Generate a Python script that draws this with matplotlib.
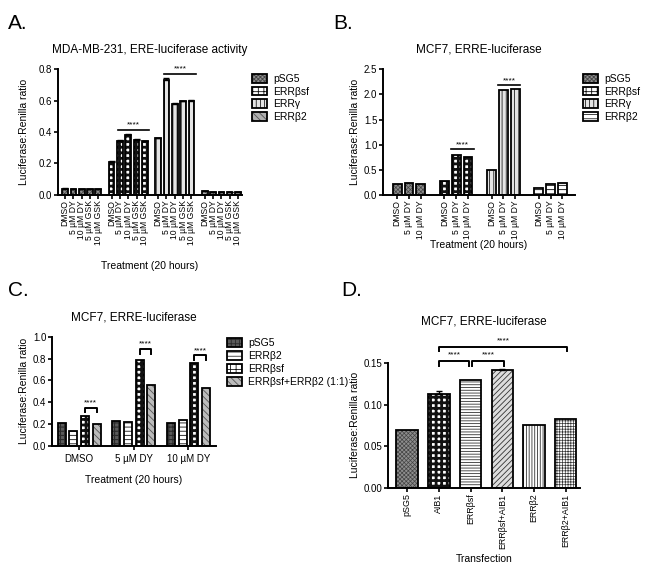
import matplotlib
matplotlib.use("Agg")
import matplotlib.pyplot as plt
from matplotlib.patches import Patch
from matplotlib.legend_handler import HandlerTuple
import numpy as np

plt.rcParams['font.family'] = ['Liberation Sans', 'DejaVu Sans']
plt.rcParams['hatch.linewidth'] = 0.6

# ---- data ----
a_treat = ["DMSO", "5 µM DY", "10 µM DY", "5 µM GSK", "10 µM GSK"]
a_series = ["pSG5", "ERRβsf", "ERRγ", "ERRβ2"]
a_vals = [[0.040, 0.038, 0.035, 0.035, 0.037],
          [0.210, 0.345, 0.380, 0.350, 0.340],
          [0.360, 0.730, 0.580, 0.595, 0.600],
          [0.022, 0.016, 0.016, 0.018, 0.018]]
a_err = [[0.002, 0.002, 0.001, 0.001, 0.002],
         [0.003, 0.004, 0.006, 0.004, 0.004],
         [0.004, 0.012, 0.005, 0.005, 0.004],
         [0.001, 0.001, 0.001, 0.001, 0.001]]

b_treat = ["DMSO", "5 µM DY", "10 µM DY"]
b_series = ["pSG5", "ERRβsf", "ERRγ", "ERRβ2"]
b_vals = [[0.22, 0.24, 0.22],
          [0.27, 0.79, 0.76],
          [0.49, 2.08, 2.11],
          [0.14, 0.21, 0.24]]

c_groups = ["DMSO", "5 µM DY", "10 µM DY"]
c_series = ["pSG5", "ERRβ2", "ERRβsf", "ERRβsf+ERRβ2 (1:1)"]
c_vals = [[0.21, 0.23, 0.21],
          [0.14, 0.22, 0.24],
          [0.27, 0.79, 0.76],
          [0.20, 0.56, 0.535]]

d_labels = ["pSG5", "AIB1", "ERRβsf", "ERRβsf+AIB1", "ERRβ2", "ERRβ2+AIB1"]
d_vals = [0.070, 0.113, 0.130, 0.142, 0.076, 0.083]
d_err = [0.0, 0.003, 0.0, 0.001, 0.0, 0.0]

# ---- styles: (face, hatch, hatch colour, hatch linewidth) ----
grey_x = ("#8e8e8e", "xxxxxxxx", "#444444", 0.5)
checker = ("white", "+++", "#111111", 2.0)
sty_a = [grey_x, checker,
         ("#e4e4e4", "||||", "#222222", 0.6), ("#b0b0b0", "\\\\\\\\\\", "#555555", 0.6)]
sty_b = [grey_x, checker,
         ("#e4e4e4", "||||", "#222222", 0.6), ("white", "----", "#222222", 0.7)]
sty_c = [("#5a5a5a", "++++", "#2a2a2a", 0.8), ("white", "----", "#333333", 0.7),
         checker, ("#bbbbbb", "\\\\\\\\\\", "#555555", 0.6)]
sty_d = [grey_x, checker,
         ("white", "------", "#333333", 0.6), ("#dddddd", "//////", "#333333", 0.6),
         ("white", "||||||", "#333333", 0.6), ("white", "++++++", "#333333", 0.5)]


def hpatch(st, **kw):
    with plt.rc_context({'hatch.linewidth': st[3]}):
        p = Patch(facecolor=st[0], edgecolor=st[2], hatch=st[1], linewidth=0, **kw)
    if hasattr(p, 'set_hatch_linewidth'):
        p.set_hatch_linewidth(st[3])
    return p


def hbar(ax, x, h, w, st, err=None):
    with plt.rc_context({'hatch.linewidth': st[3]}):
        bc = ax.bar(x, h, w, color=st[0], edgecolor=st[2], hatch=st[1], linewidth=0)
    for p in bc:
        if hasattr(p, 'set_hatch_linewidth'):
            p.set_hatch_linewidth(st[3])
    ax.bar(x, h, w, fill=False, edgecolor='black', linewidth=1.3)
    if err is not None:
        ax.errorbar([x], [h], yerr=[[0], [err]],
                    fmt='none', ecolor='black', elinewidth=1.0, capsize=2, capthick=1.0)


def handle(st):
    return (hpatch(st), Patch(fill=False, edgecolor='black', linewidth=1.3))


def style_ax(ax):
    for s in ['top', 'right']:
        ax.spines[s].set_visible(False)
    for s in ['left', 'bottom']:
        ax.spines[s].set_linewidth(1.4)
    ax.tick_params(axis='both', width=1.2, length=3, labelsize=7, pad=1)


def sig_line(ax, x0, x1, y, text, ty):
    ax.plot([x0, x1], [y, y], color='black', lw=1.2, clip_on=False)
    ax.text((x0 + x1) / 2, ty, text, ha='center', va='center', fontsize=6)


def bracket(ax, x0, x1, y, drop, text, ty):
    ax.plot([x0, x0, x1, x1], [y - drop, y, y, y - drop], color='black', lw=1.4, clip_on=False)
    ax.text((x0 + x1) / 2, ty, text, ha='center', va='center', fontsize=6)


def legend(ax, styles, names, xpx, ypx, ls=0.25):
    ax.legend([handle(s) for s in styles], names, handler_map={tuple: HandlerTuple(ndivide=1)},
              loc='upper left', bbox_to_anchor=(xpx / 648, 1 - ypx / 568),
              bbox_transform=fig.transFigure, borderaxespad=0, borderpad=0,
              frameon=False, fontsize=7.5, handlelength=1.45, handleheight=0.9,
              labelspacing=ls, handletextpad=0.6)


fig = plt.figure(figsize=(6.48, 5.68), dpi=100)

# ---------------- A ----------------
axA = fig.add_axes([0.0895, 0.657, 0.2835, 0.221])
w = 0.68
posA = []
for g in range(4):
    pos = g * 5.6 + np.arange(5)
    posA.extend(pos)
    for i in range(5):
        hbar(axA, pos[i], a_vals[g][i], w, sty_a[g], a_err[g][i])
axA.set_xlim(-0.85, 21.25)
axA.set_ylim(0, 0.8)
axA.set_yticks([0.0, 0.2, 0.4, 0.6, 0.8])
axA.set_yticklabels(["0.0", "0.2", "0.4", "0.6", "0.8"])
axA.set_xticks(posA)
style_ax(axA)
axA.set_xticklabels(a_treat * 4, rotation=90, fontsize=6.2)
axA.set_ylabel("Luciferase:Renilla ratio", fontsize=7.5, labelpad=7)
axA.set_xlabel("Treatment (20 hours)", fontsize=7.5, labelpad=11)
axA.set_title("MDA-MB-231, ERE-luciferase activity", fontsize=8.5, pad=12)
sig_line(axA, 6.35, 10.1, 0.41, "****", 0.445)
sig_line(axA, 11.95, 15.75, 0.77, "****", 0.805)
legend(axA, sty_a, a_series, 252, 74)

# ---------------- B ----------------
axB = fig.add_axes([0.591, 0.657, 0.296, 0.221])
w = 0.75
posB = []
for g in range(4):
    pos = g * 4 + np.arange(3)
    posB.extend(pos)
    for i in range(3):
        hbar(axB, pos[i], b_vals[g][i], w, sty_b[g])
axB.set_xlim(-1.2, 15.05)
axB.set_ylim(0, 2.5)
axB.set_yticks([0.0, 0.5, 1.0, 1.5, 2.0, 2.5])
axB.set_yticklabels(["0.0", "0.5", "1.0", "1.5", "2.0", "2.5"])
axB.set_xticks(posB)
style_ax(axB)
axB.set_xticklabels(b_treat * 4, rotation=90, fontsize=6.2)
axB.set_ylabel("Luciferase:Renilla ratio", fontsize=7.5, labelpad=3)
axB.set_xlabel("Treatment (20 hours)", fontsize=7.5, labelpad=1)
axB.set_title("MCF7, ERRE-luciferase", fontsize=8.5, pad=12)
sig_line(axB, 4.6, 6.5, 0.91, "****", 1.0)
sig_line(axB, 8.55, 10.4, 2.18, "****", 2.27)
legend(axB, sty_b, b_series, 583, 74)

# ---------------- C ----------------
axC = fig.add_axes([0.080, 0.215, 0.253, 0.192])
sp = 0.213
w = 0.15
offs = (np.arange(4) - 1.5) * sp
xc = np.arange(3)
for s in range(4):
    for g in range(3):
        hbar(axC, xc[g] + offs[s], c_vals[s][g], w, sty_c[s])
axC.set_xlim(-0.5, 2.5)
axC.set_ylim(0, 1.0)
axC.set_yticks([0.0, 0.2, 0.4, 0.6, 0.8, 1.0])
axC.set_yticklabels(["0.0", "0.2", "0.4", "0.6", "0.8", "1.0"])
axC.set_xticks(xc)
style_ax(axC)
axC.set_xticklabels(c_groups, fontsize=7)
axC.tick_params(axis='x', pad=3)
axC.set_ylabel("Luciferase:Renilla ratio", fontsize=7.5, labelpad=3)
axC.set_xlabel("Treatment (20 hours)", fontsize=7.5, labelpad=8)
axC.set_title("MCF7, ERRE-luciferase", fontsize=8.5, pad=12)
bracket(axC, 0 + offs[2], 0 + offs[3], 0.343, 0.035, "****", 0.39)
bracket(axC, 1 + offs[2], 1 + offs[3], 0.887, 0.04, "****", 0.935)
bracket(axC, 2 + offs[2], 2 + offs[3], 0.83, 0.04, "****", 0.875)
legend(axC, sty_c, c_series, 227, 338, ls=0.3)

# ---------------- D ----------------
axD = fig.add_axes([0.599, 0.141, 0.296, 0.220])
xd = np.arange(6)
for i in range(6):
    hbar(axD, xd[i], d_vals[i], 0.68, sty_d[i], d_err[i] if d_err[i] > 0 else None)
axD.set_xlim(-0.6, 5.45)
axD.set_ylim(0, 0.15)
axD.set_yticks([0.0, 0.05, 0.10, 0.15])
axD.set_yticklabels(["0.00", "0.05", "0.10", "0.15"])
axD.set_xticks(xd)
style_ax(axD)
axD.set_xticklabels(d_labels, rotation=90, fontsize=6.4)
axD.set_ylabel("Luciferase:Renilla ratio", fontsize=7.5, labelpad=3)
axD.set_xlabel("Transfection", fontsize=7.5, labelpad=4)
axD.set_title("MCF7, ERRE-luciferase", fontsize=8.5, pad=28)
bracket(axD, 1, 1.95, 0.1525, 0.006, "****", 0.1595)
bracket(axD, 2.05, 3.05, 0.1525, 0.006, "****", 0.1595)
bracket(axD, 1, 5.05, 0.169, 0.005, "****", 0.177)

# panel letters
fig.text(0.012, 0.975, "A.", fontsize=15, va='top')
fig.text(0.515, 0.975, "B.", fontsize=15, va='top')
fig.text(0.012, 0.505, "C.", fontsize=15, va='top')
fig.text(0.527, 0.505, "D.", fontsize=15, va='top')

fig.savefig("out.png", dpi=100)
